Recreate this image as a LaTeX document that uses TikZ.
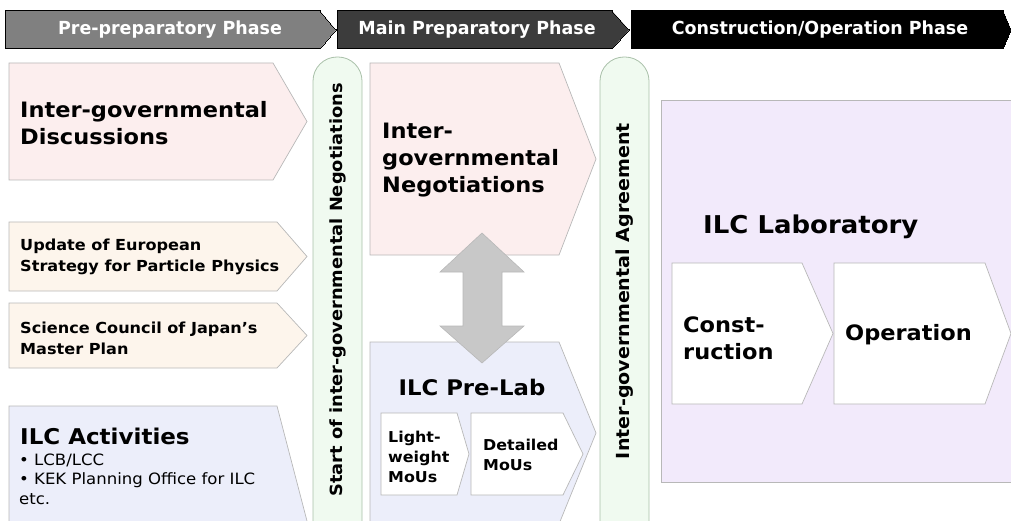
\documentclass[tikz,border=0pt]{standalone}
\usepackage{fontspec}
\setmainfont{DejaVu Sans}[FakeStretch=1.06]
\newfontfamily\hdrfont{DejaVu Sans}[FakeStretch=0.97]
\usetikzlibrary{positioning}

\definecolor{hdrone}{HTML}{808080}
\definecolor{hdrtwo}{HTML}{3C3C3C}
\definecolor{hdrthree}{HTML}{000000}
\definecolor{pinkfill}{HTML}{FCEEEE}
\definecolor{peachfill}{HTML}{FDF5EC}
\definecolor{bluefill}{HTML}{ECEEFA}
\definecolor{labfill}{HTML}{F2EAFB}
\definecolor{greenfill}{HTML}{F0FAF0}
\definecolor{greenline}{HTML}{A9C0A9}
\definecolor{boxline}{HTML}{B8B8B8}
\definecolor{arrowfill}{HTML}{C8C8C8}

% chevron box: style, left x, top y, flat x, tip x, bottom y
\newcommand\chevbox[6]{%
  \draw[#1] (#2,#3) -- (#4,#3) -- (#5,{(#3+#6)/2}) -- (#4,#6) -- (#2,#6) -- cycle;}

\tikzset{
  phase/.style={line width=0pt},
  phase text/.style={text=white,font=\hdrfont\bfseries\fontsize{18}{20}\selectfont},
  box/.style={draw=boxline,line width=0.7pt},
  milestone/.style={draw=greenline,fill=greenfill,line width=0.8pt,rounded corners=24pt},
  milestone text/.style={rotate=90,font=\bfseries\fontsize{16.8}{18}\selectfont},
  big text/.style={anchor=west,align=left,inner sep=0pt,font=\bfseries\fontsize{21.2}{27}\selectfont},
  mid text/.style={anchor=west,align=left,inner sep=0pt,font=\bfseries\fontsize{15.2}{21}\selectfont},
  small text/.style={anchor=west,align=left,inner sep=0pt,font=\bfseries\fontsize{15}{20}\selectfont}
}

\begin{document}
\begin{tikzpicture}[x=1pt,y=-1pt]
  \useasboundingbox (0,0) rectangle (1011,521);

  % phase bands
  \chevbox{phase,fill=hdrone}{5}{11}{320}{336}{49}
  \chevbox{phase,fill=hdrtwo}{337}{11}{612}{629}{49}
  \chevbox{phase,fill=hdrthree}{631}{11}{1003}{1011}{49}
  \node[phase text] (pre) at (170,30) {Pre-preparatory Phase};
  \node[phase text] (main) at (477,30) {Main Preparatory Phase};
  \node[phase text] (cons) at (820,30) {Construction/Operation Phase};

  % pre-preparatory column
  \chevbox{box,fill=pinkfill}{9}{63}{273}{307}{180}
  \chevbox{box,fill=peachfill}{9}{222}{277}{307}{291}
  \chevbox{box,fill=peachfill}{9}{303}{277}{307}{368}
  \chevbox{box,fill=bluefill}{9}{406}{277}{307}{636}
  \node[big text] (disc) at (20,123) {Inter-governmental\\Discussions};
  \node[mid text] (euro) at (20,257) {Update of European\\Strategy for Particle Physics};
  \node[mid text] (scj) at (20,338) {Science Council of Japan’s\\Master Plan};
  \node[anchor=west,inner sep=0pt,font=\bfseries\fontsize{21.7}{27}\selectfont] (act) at (20,436) {ILC Activities};
  \node[anchor=west,align=left,inner sep=0pt,font=\fontsize{15.6}{19.5}\selectfont] (actlist) at (19,479)
    {• LCB/LCC\\• KEK Planning Office for ILC\\etc.};

  % milestones
  \draw[milestone] (313,540) -- (313,57) -- (362,57) -- (362,540);
  \draw[milestone] (600,540) -- (600,57) -- (649,57) -- (649,540);
  \node[milestone text] (start) at (338,290) {Start of inter-governmental Negotiations};
  \node[milestone text,font=\bfseries\fontsize{18}{20}\selectfont] (agree) at (625,291) {Inter-governmental Agreement};

  % main preparatory column
  \chevbox{box,fill=pinkfill}{370}{63}{559}{596}{255}
  \chevbox{box,fill=bluefill}{370}{342}{559}{596}{524}
  \node[big text] (nego) at (382,160) {Inter-\\governmental\\Negotiations};
  \node[font=\bfseries\fontsize{21.5}{24}\selectfont] (prelab) at (472,387) {ILC Pre-Lab};
  \chevbox{box,fill=white}{381}{413}{457}{469}{495}
  \chevbox{box,fill=white}{471}{413}{563}{583}{495}
  \node[small text] (light) at (388,457) {Light-\\weight\\MoUs};
  \node[small text] (detail) at (483,455) {Detailed\\MoUs};
  \draw[draw=boxline,fill=arrowfill,line width=0.6pt]
    (482,233) -- (524,272) -- (502,272) -- (502,326) -- (524,326) -- (482,363)
    -- (440,326) -- (463,326) -- (463,272) -- (440,272) -- cycle;

  % construction / operation column
  \draw[box,fill=labfill] (661,100) rectangle (1020,482);
  \node[anchor=west,inner sep=0pt,font=\bfseries\fontsize{24.5}{28}\selectfont] (lab) at (703,227) {ILC Laboratory};
  \chevbox{box,fill=white}{672}{263}{802}{833}{404}
  \chevbox{box,fill=white}{834}{263}{985}{1011}{404}
  \node[big text] (constr) at (683,338) {Const-\\ruction};
  \node[big text] (oper) at (845,335) {Operation};
\end{tikzpicture}
\end{document}
